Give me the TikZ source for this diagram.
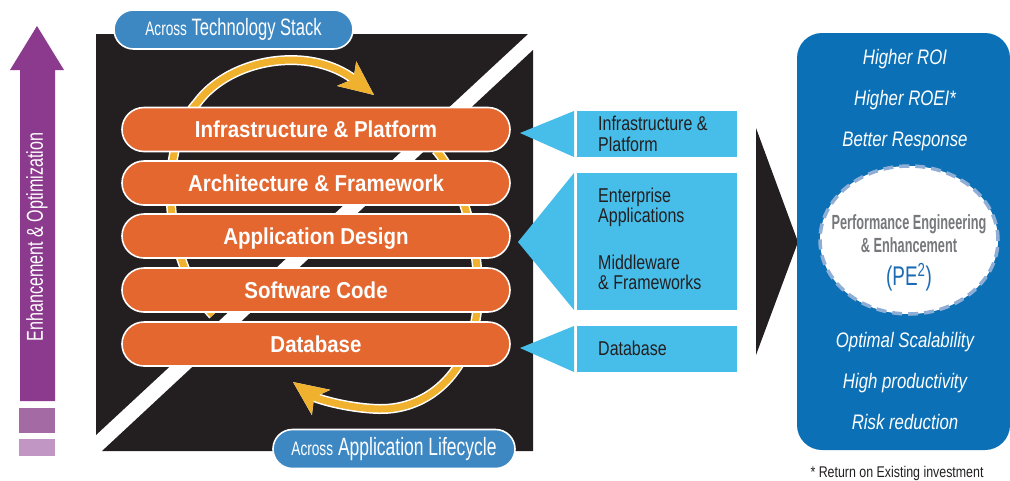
\documentclass[tikz,border=0pt]{standalone}
\usepackage{fontspec}
\setmainfont{Liberation Sans}[FakeStretch=0.8]
\newfontfamily\narrowfont{Liberation Sans}[FakeStretch=0.7]
\newfontfamily\barfont{Liberation Sans}[FakeStretch=0.89]
\newfontfamily\pefont{Liberation Sans}[FakeStretch=0.62]
\usepackage{tikz}
\usetikzlibrary{arrows.meta}
\usetikzlibrary{shapes.geometric}
\definecolor{Ink}{HTML}{231F20}
\definecolor{BarOrange}{HTML}{E3672F}
\definecolor{LoopYellow}{HTML}{F0B22E}
\definecolor{Plum}{HTML}{8B3A8D}
\definecolor{PlumMid}{HTML}{A46AA4}
\definecolor{PlumLight}{HTML}{C196C4}
\definecolor{PillBlue}{HTML}{3D88C3}
\definecolor{SkyBlue}{HTML}{46BEE9}
\definecolor{PanelBlue}{HTML}{0B70B5}
\definecolor{DashBlue}{HTML}{8FAED6}
\definecolor{GreyText}{HTML}{77787B}
\definecolor{PEBlue}{HTML}{1A6BB3}
\pgfdeclarelayer{backlayer}
\pgfdeclarelayer{edgelayer}
\pgfdeclarelayer{nodelayer}
\pgfsetlayers{backlayer,edgelayer,nodelayer,main}
\tikzstyle{none}=[inner sep=0pt]
\tikzstyle{bar}=[rectangle,rounded corners=22pt,fill=BarOrange,draw=white,line width=1.6pt,minimum width=388pt,minimum height=44pt,inner sep=0pt,text=white,text height=16.5pt,text depth=0pt,font=\barfont\bfseries\fontsize{23}{23}\selectfont]
\tikzstyle{pill}=[rectangle,rounded corners=19.5pt,fill=PillBlue,draw=white,line width=1.6pt,minimum height=39pt,inner sep=0pt,text=white,font=\narrowfont\fontsize{23.7}{24}\selectfont]
\tikzstyle{calltext}=[inner sep=0pt,anchor=west,align=left,text=Ink,font=\fontsize{20}{20.5}\selectfont]
\tikzstyle{gain}=[inner sep=0pt,align=center,text=white,font=\itshape\fontsize{21}{41}\selectfont]
\tikzstyle{pe}=[ellipse,fill=white,draw=DashBlue,line width=3.5pt,dash pattern=on 10pt off 6pt,minimum width=178pt,minimum height=148pt]
\tikzstyle{loopedge}=[-{Stealth[length=34pt,width=30pt,inset=8pt]},draw=white,line width=10pt]
\tikzstyle{loopline}=[-{Stealth[length=34pt,width=30pt,inset=8pt]},draw=LoopYellow,line width=7pt]

\begin{document}
\begin{tikzpicture}[x=1pt,y=-1pt]
	\useasboundingbox (0,0) rectangle (1010,480);
	\begin{pgfonlayer}{backlayer}
		\fill [Ink] (96,34) -- (528,34) -- (96,435) -- cycle;
		\fill [Ink] (533,50) -- (533,451) -- (102,451) -- cycle;
		\fill [Plum] (20,401) -- (20,70) -- (10,70) -- (37,26) -- (64,70) -- (55,70) -- (55,401) -- cycle;
		\fill [PlumMid] (19,408) rectangle (55,433);
		\fill [PlumLight] (19,439) rectangle (55,456);
		\fill [SkyBlue] (520,133) -- (574,111) -- (574,157) -- cycle;
		\fill [SkyBlue] (577,111) rectangle (737,157);
		\fill [SkyBlue] (518,242) -- (574,173) -- (574,310) -- cycle;
		\fill [SkyBlue] (577,173) rectangle (737,310);
		\fill [SkyBlue] (520,348) -- (574,326) -- (574,372) -- cycle;
		\fill [SkyBlue] (577,326) rectangle (737,372);
		\fill [Ink] (756,128) -- (798,242) -- (756,355) -- cycle;
		\fill [PanelBlue,rounded corners=25pt] (797,33) rectangle (1010,450);
	\end{pgfonlayer}
	\begin{pgfonlayer}{nodelayer}
		\node [style=none,rotate=90,text=white,font=\narrowfont\fontsize{23}{23}\selectfont] (0) at (37,237) {Enhancement \& Optimization};
		\node [style=none] (20) at (213,315) {};
		\node [style=none] (21) at (374,95) {};
		\node [style=none] (22) at (436,150) {};
		\node [style=none] (23) at (293,382) {};
		\node [style=bar] (30) at (316,129.5) {Infrastructure \& Platform};
		\node [style=bar] (31) at (316,183) {Architecture \& Framework};
		\node [style=bar] (32) at (316,236) {Application Design};
		\node [style=bar] (33) at (316,290) {Software Code};
		\node [style=bar] (34) at (316,344) {Database};
		\node [style=pill,minimum width=239pt] (35) at (233.5,29.5) {{\fontsize{19.5}{20}\selectfont Across} Technology Stack};
		\node [style=pill,minimum width=242pt,font=\narrowfont\fontsize{25}{25}\selectfont] (36) at (394,449) {{\fontsize{19.5}{20}\selectfont Across} Application Lifecycle};
		\node [style=calltext] (50) at (598,134) {Infrastructure \&\\Platform};
		\node [style=calltext] (51) at (598,239) {Enterprise\\Applications\\[26pt]Middleware\\\& Frameworks};
		\node [style=calltext] (52) at (598,348) {Database};
		\node [style=pe] (40) at (909,240) {};
		\node [style=none,align=center,text=GreyText,font=\pefont\bfseries\fontsize{20.5}{23}\selectfont] (41) at (909,252.5) {Performance Engineering\\\& Enhancement\\[10pt]{\color{PEBlue}\narrowfont\mdseries\fontsize{27}{27}\selectfont (PE\textsuperscript{2})}};
		\node [style=gain] (60) at (905,100.5) {Higher ROI\\Higher ROEI*\\Better Response};
		\node [style=gain] (61) at (905,381) {Optimal Scalability\\High productivity\\Risk reduction};
		\node [style=none,anchor=base,text=Ink,font=\fontsize{15.5}{16}\selectfont] (70) at (897,477) {* Return on Existing investment};
	\end{pgfonlayer}
	\begin{pgfonlayer}{edgelayer}
		\draw [style=loopedge] (20.center) .. controls (165,265) and (155,150) .. (197,103) .. controls (230,58) and (310,45) .. (21.center);
		\draw [style=loopline] (20.center) .. controls (165,265) and (155,150) .. (197,103) .. controls (230,58) and (310,45) .. (21.center);
		\draw [style=loopedge] (22.center) .. controls (462,180) and (480,245) .. (478,300) .. controls (474,370) and (430,410) .. (379,409) .. controls (345,408) and (315,398) .. (23.center);
		\draw [style=loopline] (22.center) .. controls (462,180) and (480,245) .. (478,300) .. controls (474,370) and (430,410) .. (379,409) .. controls (345,408) and (315,398) .. (23.center);
	\end{pgfonlayer}
\end{tikzpicture}
\end{document}
